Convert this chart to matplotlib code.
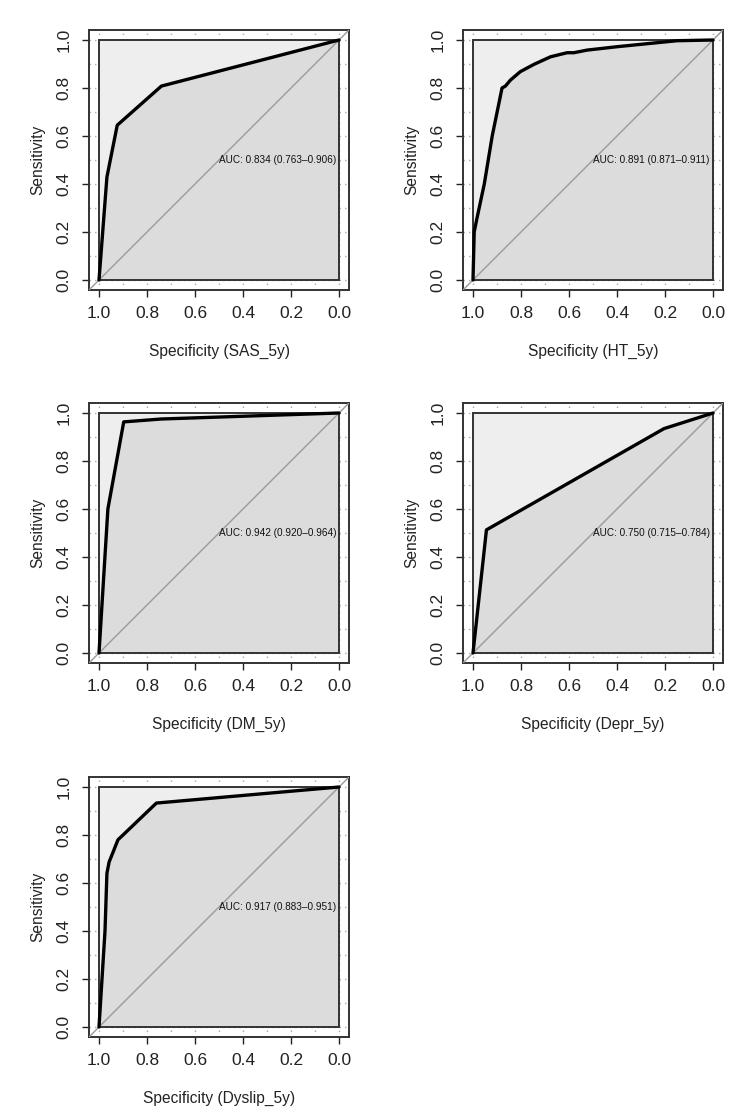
import matplotlib
matplotlib.use("Agg")
import matplotlib.pyplot as plt
from matplotlib.patches import Rectangle, Polygon
import numpy as np

plt.rcParams['font.family'] = ['Liberation Sans', 'DejaVu Sans']

# ---- data ----
names = ['SAS_5y', 'HT_5y', 'DM_5y', 'Depr_5y', 'Dyslip_5y']
auc_labels = ['AUC: 0.834 (0.763\u20130.906)',
              'AUC: 0.891 (0.871\u20130.911)',
              'AUC: 0.942 (0.920\u20130.964)',
              'AUC: 0.750 (0.715\u20130.784)',
              'AUC: 0.917 (0.883\u20130.951)']

spec_sas = [1.0, 0.967, 0.924, 0.74, 0.0]
sens_sas = [0.0, 0.429, 0.645, 0.808, 1.0]

spec_ht = [1.0, 0.995, 0.985, 0.953, 0.92, 0.879, 0.865, 0.844, 0.803, 0.747,
           0.677, 0.608, 0.58, 0.524, 0.40, 0.26, 0.15, 0.0]
sens_ht = [0.0, 0.20, 0.25, 0.40, 0.60, 0.80, 0.808, 0.833, 0.868, 0.898,
           0.93, 0.947, 0.947, 0.958, 0.972, 0.986, 0.997, 1.0]

spec_dm = [1.0, 0.963, 0.897, 0.74, 0.0]
sens_dm = [0.0, 0.60, 0.963, 0.975, 1.0]

spec_depr = [1.0, 0.944, 0.204, 0.0]
sens_depr = [0.0, 0.513, 0.935, 1.0]

spec_dys = [1.0, 0.975, 0.967, 0.958, 0.921, 0.90, 0.761, 0.0]
sens_dys = [0.0, 0.40, 0.64, 0.687, 0.78, 0.80, 0.933, 1.0]

specs = [spec_sas, spec_ht, spec_dm, spec_depr, spec_dys]
senss = [sens_sas, sens_ht, sens_dm, sens_depr, sens_dys]

tick_vals = [1.0, 0.8, 0.6, 0.4, 0.2, 0.0]
tick_labels = ['1.0', '0.8', '0.6', '0.4', '0.2', '0.0']

# ---- layout ----
W, H = 752, 1112
fig = plt.figure(figsize=(W / 100, H / 100), dpi=100)
aw = 259.2 / W
ah = 259.2 / H
lefts = [89.4 / W, 463.4 / W]
bottoms = [822.4 / H, 449.4 / H, 75.4 / H]

dark = '#222222'
for i in range(5):
    r, c = divmod(i, 2)
    ax = fig.add_axes([lefts[c], bottoms[r], aw, ah])
    ax.set_xlim(1.04, -0.04)
    ax.set_ylim(-0.04, 1.04)
    # grid (dotted)
    for v in np.arange(0, 1.001, 0.1):
        ax.axvline(v, color='#a8a8a8', lw=1.0, ls=(0, (1, 3)), zorder=0)
        ax.axhline(v, color='#a8a8a8', lw=1.0, ls=(0, (1, 3)), zorder=0)
    # max auc polygon
    ax.add_patch(Rectangle((0, 0), 1, 1, facecolor='#EEEEEE', edgecolor='none', zorder=1))
    # auc polygon
    pts = list(zip(specs[i], senss[i])) + [(0.0, 0.0)]
    ax.add_patch(Polygon(pts, closed=True, facecolor='#DCDCDC', edgecolor='none', zorder=2))
    ax.add_patch(Rectangle((0, 0), 1, 1, facecolor='none', edgecolor='#333333', lw=1.4, zorder=3))
    # diagonal
    ax.axline((1, 0), (0, 1), color='#9a9a9a', lw=1.0, zorder=3.5)
    # roc curve
    ax.plot(specs[i], senss[i], color='black', lw=2.4, zorder=5,
            solid_joinstyle='round', solid_capstyle='round')
    ax.text(0.5, 0.5, auc_labels[i], ha='left', va='center', fontsize=7.2,
            color='#111111', zorder=6)

    ax.set_xticks(tick_vals)
    ax.set_xticklabels(tick_labels)
    ax.set_yticks(tick_vals[::-1])
    ax.set_yticklabels(tick_labels[::-1], rotation=90, va='center')
    ax.tick_params(axis='both', length=5, width=1.0, color=dark, labelsize=12.5,
                   labelcolor=dark)
    ax.tick_params(axis='x', pad=7)
    ax.tick_params(axis='y', pad=8)
    for s in ax.spines.values():
        s.set_linewidth(1.4)
        s.set_color('#333333')
    ax.set_xlabel('Specificity (%s)' % names[i], fontsize=11.2, color=dark, labelpad=16)
    ax.set_ylabel('Sensitivity', fontsize=11.2, color=dark, labelpad=8)

fig.savefig('out.png', dpi=100, facecolor='white')
